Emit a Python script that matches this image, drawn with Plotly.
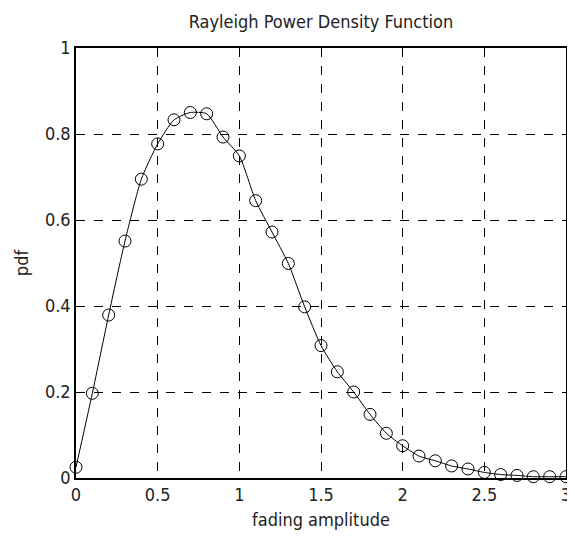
import plotly.graph_objects as go

x_vals = [0.0, 0.1, 0.2, 0.3, 0.4, 0.5, 0.6, 0.7, 0.8, 0.9, 1.0,
          1.1, 1.2, 1.3, 1.4, 1.5, 1.6, 1.7, 1.8, 1.9, 2.0,
          2.1, 2.2, 2.3, 2.4, 2.5, 2.6, 2.7, 2.8, 2.9, 3.0]
pdf_vals = [0.025, 0.197, 0.379, 0.551, 0.695, 0.777, 0.833, 0.850, 0.847, 0.793, 0.749,
            0.645, 0.572, 0.499, 0.398, 0.308, 0.247, 0.200, 0.148, 0.104, 0.075,
            0.051, 0.040, 0.028, 0.021, 0.013, 0.008, 0.006, 0.003, 0.003, 0.003]
x_ticks = [0, 0.5, 1, 1.5, 2, 2.5, 3]
x_tick_labels = ["0", "0.5", "1", "1.5", "2", "2.5", "3"]
y_ticks = [0, 0.2, 0.4, 0.6, 0.8, 1]
y_tick_labels = ["0", "0.2", "0.4", "0.6", "0.8", "1"]

FONT = "DejaVu Sans Condensed, Liberation Sans Narrow, sans-serif"
TXT = "#222"

# page body has an 8px margin, so the figure is drawn 8px in from the top-left
W, H = 567, 522

fig = go.Figure()
fig.add_trace(go.Scatter(
    x=x_vals, y=pdf_vals, mode="lines+markers",
    line=dict(color="black", width=1, shape="spline", smoothing=0.6),
    marker=dict(symbol="circle-open", size=12, color="black", line=dict(width=1)),
    cliponaxis=False, showlegend=False,
))

axis_common = dict(
    showline=True, mirror=True, linecolor="black", linewidth=1.5,
    showgrid=True, gridcolor="black", gridwidth=1, griddash="dash",
    zeroline=False, ticks="", automargin=False,
    tickfont=dict(family=FONT, size=18, color=TXT),
)
fig.update_xaxes(range=[0, 3], tickvals=x_ticks, ticktext=x_tick_labels,
                 title=dict(text="fading amplitude", font=dict(family=FONT, size=18, color=TXT), standoff=10),
                 **axis_common)
fig.update_yaxes(range=[0, 1], tickvals=y_ticks, ticktext=y_tick_labels,
                 title=dict(text="pdf", font=dict(family=FONT, size=18, color=TXT), standoff=12),
                 **axis_common)

fig.update_layout(
    width=W, height=H,
    margin=dict(l=68, r=9, t=40, b=52),
    paper_bgcolor="white", plot_bgcolor="white",
    title=dict(text="Rayleigh Power Density Function", x=313 / W, xanchor="center",
               y=1 - 14 / H, yanchor="middle",
               font=dict(family=FONT, size=18, color=TXT)),
)

fig.write_html("out.html")
